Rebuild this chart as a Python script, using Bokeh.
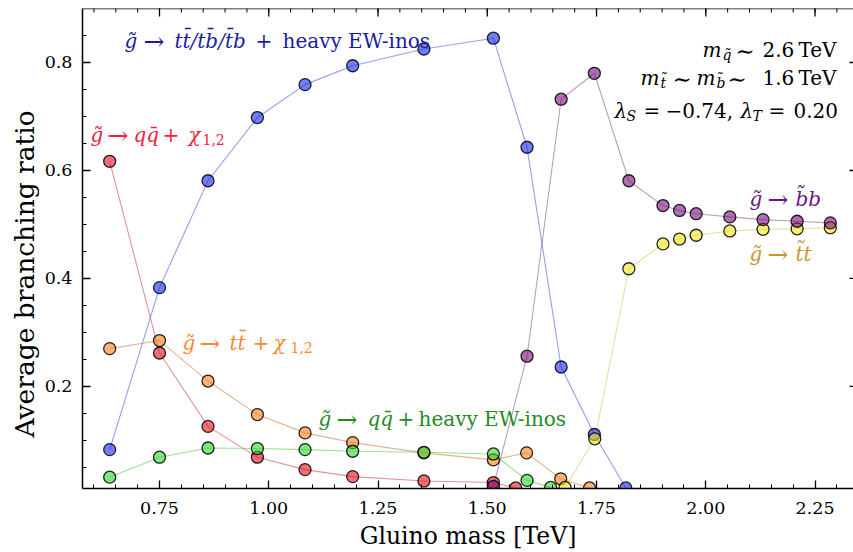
import math
from bokeh.plotting import figure
from bokeh.models import Label, FixedTicker, NumeralTickFormatter, Range1d, Span, Title
from bokeh.embed import file_html
from bokeh.resources import INLINE

# ---------------- data ----------------
blue_m = [0.636, 0.750, 0.861, 0.974, 1.083, 1.192, 1.355, 1.514, 1.591, 1.669, 1.745, 1.817]
blue_v = [0.083, 0.383, 0.581, 0.698, 0.759, 0.794, 0.825, 0.845, 0.643, 0.236, 0.111, 0.012]

red_m = [0.636, 0.750, 0.861, 0.974, 1.083, 1.192, 1.355, 1.514, 1.565]
red_v = [0.617, 0.262, 0.126, 0.069, 0.046, 0.033, 0.025, 0.022, 0.012]

orange_m = [0.636, 0.750, 0.861, 0.974, 1.083, 1.192, 1.355, 1.514, 1.590, 1.668, 1.734]
orange_v = [0.270, 0.285, 0.210, 0.148, 0.114, 0.096, 0.077, 0.064, 0.077, 0.029, 0.012]

green_m = [0.636, 0.750, 0.861, 0.974, 1.083, 1.192, 1.355, 1.514, 1.591, 1.645]
green_v = [0.032, 0.069, 0.086, 0.085, 0.083, 0.080, 0.078, 0.075, 0.026, 0.013]

yellow_m = [1.678, 1.746, 1.824, 1.902, 1.940, 1.978, 2.055, 2.131, 2.209, 2.285]
yellow_v = [0.013, 0.103, 0.418, 0.464, 0.473, 0.480, 0.488, 0.491, 0.492, 0.494]

purple_m = [1.514, 1.591, 1.669, 1.745, 1.824, 1.902, 1.940, 1.978, 2.055, 2.131, 2.209, 2.285]
purple_v = [0.015, 0.256, 0.732, 0.780, 0.581, 0.535, 0.526, 0.520, 0.514, 0.509, 0.506, 0.503]

x_ticks = [0.75, 1.00, 1.25, 1.50, 1.75, 2.00, 2.25]
y_ticks = [0.2, 0.4, 0.6, 0.8]
x_minor = [round(0.60 + 0.05 * i, 2) for i in range(35)]
y_minor = [round(0.05 * i, 2) for i in range(1, 18)]

XR = (0.5738, 2.338)
YR = (0.011, 0.900)

# ---------------- figure ----------------
FONT = "DejaVu Serif"
W, H = 853, 552
FL, FR, FT, FB = 82, 853, 8, 488   # frame edges on the page (px)

p = figure(width=W, height=H, x_range=Range1d(*XR), y_range=Range1d(*YR),
           output_backend="svg", toolbar_location=None,
           min_border_left=FL, min_border_right=W - FR,
           min_border_top=FT, min_border_bottom=H - FB)
p.grid.visible = False
p.outline_line_color = None
p.background_fill_color = "white"
p.border_fill_color = "white"

def style_axis(ax, ticks, minor, fmt):
    ax.ticker = FixedTicker(ticks=ticks, minor_ticks=minor)
    ax.formatter = NumeralTickFormatter(format=fmt)
    ax.axis_line_color = "black"
    ax.axis_line_width = 1.5
    ax.major_tick_in = 8
    ax.major_tick_out = 0
    ax.minor_tick_in = 4
    ax.minor_tick_out = 0
    ax.major_tick_line_width = 1.3
    ax.minor_tick_line_width = 1.0
    ax.major_tick_line_color = "black"
    ax.minor_tick_line_color = "black"
    ax.major_label_text_font = FONT
    ax.major_label_text_color = "black"
    ax.major_label_text_font_size = "17.5px"
    ax.axis_label_text_font = FONT
    ax.axis_label_text_font_style = "normal"
    ax.axis_label_text_color = "black"

xa = p.xaxis[0]
ya = p.yaxis[0]
style_axis(xa, x_ticks, x_minor, "0.00")
style_axis(ya, y_ticks, y_minor, "0.0")
xa.major_label_standoff = 13
ya.major_label_standoff = 10
xa.axis_label = "Gluino mass [TeV]"
xa.axis_label_text_font_size = "23.5px"
xa.axis_label_standoff = 5

# y-axis title (placed as a side title so it can sit where the reference has it)
ytitle = Title(text="Average branching ratio", align="left", offset=51,
               vertical_align="bottom", standoff=4,
               text_font=FONT, text_font_size="26.5px", text_font_style="normal",
               text_color="black")
p.add_layout(ytitle, "left")

# top frame line and inward ticks on top / right
p.add_layout(Span(location=YR[1], dimension="width", line_color="black", line_width=1.5))
top_major_y = [YR[1]] * len(x_ticks)
top_minor_x = [t for t in x_minor if XR[0] < t < XR[1]]
top_minor_y = [YR[1]] * len(top_minor_x)
p.scatter(x_ticks, top_major_y, marker="dash", angle=math.pi / 2, size=16,
          line_color="black", line_width=1.3)
p.scatter(top_minor_x, top_minor_y, marker="dash", angle=math.pi / 2, size=8,
          line_color="black", line_width=1.0)
right_x = [XR[1]] * len(y_ticks)
p.scatter(right_x, y_ticks, marker="dash", size=8, line_color="black", line_width=1.3)

# ---------------- series ----------------
series = [
    (blue_m, blue_v, "#1428f0", "#3c50e6"),
    (red_m, red_v, "#e60d1e", "#c83c46"),
    (orange_m, orange_v, "#f7821e", "#c8783c"),
    (green_m, green_v, "#2fd52f", "#46c846"),
    (yellow_m, yellow_v, "#eee61e", "#c8c850"),
    (purple_m, purple_v, "#7a0d7a", "#8c4b8c"),
]
for m, v, fc, lc in series:
    p.line(m, v, line_color=lc, line_alpha=0.55, line_width=1.1)
for m, v, fc, lc in series:
    p.scatter(m, v, size=12, fill_color=fc, fill_alpha=0.6,
              line_color="black", line_width=1.3, line_alpha=0.85)

# ---------------- annotations ----------------
def dx(px):
    return XR[0] + (px - FL) / (FR - FL) * (XR[1] - XR[0])

def dy(py):
    return YR[0] + (FB - py) / (FB - FT) * (YR[1] - YR[0])

def put(text, px, py, size, color, italic=False):
    p.add_layout(Label(x=dx(px), y=dy(py), text=text, text_font=FONT,
                       text_font_size=f"{size}px", text_color=color,
                       text_font_style="italic" if italic else "normal",
                       text_align="left", text_baseline="alphabetic"))

G = "g\u0303"
ARR = "\u2192"
C_BLUE = "#1c1ca0"
C_RED = "#f5203c"
C_ORA = "#f78a32"
C_GRN = "#1e8c1e"
C_PUR = "#6e1482"
C_GLD = "#c8962a"
S = 20
SA = 25
SS = 14

# blue label
put(G, 124, 40, S, C_BLUE, True)
put(ARR, 143, 41, SA, C_BLUE)
put("tt\u0304/tb\u0304/t\u0304b", 174, 40, S, C_BLUE, True)
put("+", 255, 40, S, C_BLUE)
put("heavy EW-inos", 282, 40, S, C_BLUE)

# red label
put(G, 90, 134, S, C_RED, True)
put(ARR, 107, 135, SA, C_RED)
put("qq\u0304", 133, 134, S, C_RED, True)
put("+", 162, 134, S, C_RED)
put("\u03c7", 188, 134, S, C_RED, True)
put("1,2", 202, 139, SS, C_RED)

# orange label
put(G, 182, 342, S, C_ORA, True)
put(ARR, 199, 343, SA, C_ORA)
put("tt\u0304", 229, 342, S, C_ORA, True)
put("+", 252, 342, S, C_ORA)
put("\u03c7", 273, 342, S, C_ORA, True)
put("1,2", 290, 347, SS, C_ORA)

# green label
put(G, 318, 418, S, C_GRN, True)
put(ARR, 336, 419, SA, C_GRN)
put("qq\u0304", 367, 418, S, C_GRN, True)
put("+", 397, 418, S, C_GRN)
put("heavy EW-inos", 418, 418, S, C_GRN)

# purple label
put(G, 749, 198, S, C_PUR, True)
put(ARR, 767, 199, SA, C_PUR)
put("b\u0303b", 795, 198, S, C_PUR, True)

# gold label
put(G, 749, 253, S, C_GLD, True)
put(ARR, 767, 254, SA, C_GLD)
put("t\u0303t", 795, 253, S, C_GLD, True)

# top-right parameter text
K = "black"
T = 20
TT = 23
TS = 14
put("m", 702, 49, T, K, True)
put("q\u0303", 722, 54, TS, K, True)
put("\u223c", 735, 50, TT, K)
put("2.6", 762, 49, T, K)
put("TeV", 798, 49, T, K)

put("m", 640, 77, T, K, True)
put("t\u0303", 660, 82, TS, K, True)
put("\u223c", 672, 78, TT, K)
put("m", 696, 77, T, K, True)
put("b\u0303", 716, 82, TS, K, True)
put("\u223c", 727, 78, TT, K)
put("1.6", 762, 77, T, K)
put("TeV", 798, 77, T, K)

put("\u03bb", 614, 110, T, K, True)
put("S", 626, 115, TS, K, True)
put("=", 643, 110, T, K)
put("\u22120.74,", 665, 110, T, K)
put("\u03bb", 740, 110, T, K, True)
put("T", 752, 115, TS, K, True)
put("=", 768, 110, T, K)
put("0.20", 793, 110, T, K)

open("out.html", "w").write(file_html(p, INLINE))
